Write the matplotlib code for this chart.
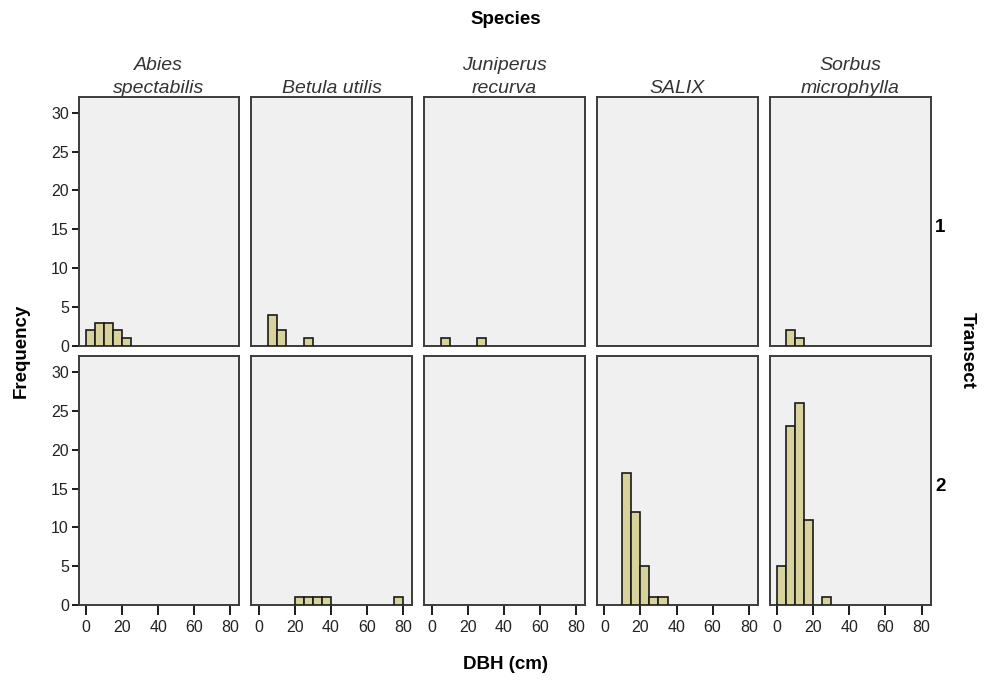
import numpy as np
import matplotlib.pyplot as plt

plt.rcParams["font.family"] = ["Liberation Sans", "DejaVu Sans"]

species = ["Abies\nspectabilis", "Betula utilis", "Juniperus\nrecurva", "SALIX", "Sorbus\nmicrophylla"]
transects = ["1", "2"]

# DBH bins of 5 cm starting at 0; counts per bin (bin start -> frequency)
bin_width = 5
counts = {
    ("1", 0): {0: 2, 5: 3, 10: 3, 15: 2, 20: 1},
    ("1", 1): {5: 4, 10: 2, 25: 1},
    ("1", 2): {5: 1, 25: 1},
    ("1", 3): {},
    ("1", 4): {5: 2, 10: 1},
    ("2", 0): {},
    ("2", 1): {20: 1, 25: 1, 30: 1, 35: 1, 75: 1},
    ("2", 2): {},
    ("2", 3): {10: 17, 15: 12, 20: 5, 25: 1, 30: 1},
    ("2", 4): {0: 5, 5: 23, 10: 26, 15: 11, 25: 1},
}

bar_color = "#d8d39c"
panel_bg = "#f0f0f0"
spine_color = "#3c3c3c"

fig, axes = plt.subplots(2, 5, figsize=(9.85, 6.88), dpi=100, sharex=True, sharey=True)
fig.subplots_adjust(left=0.0797, right=0.9447, top=0.8586, bottom=0.1206,
                    wspace=0.075, hspace=0.043)

for r, t in enumerate(transects):
    for c, sp in enumerate(species):
        ax = axes[r, c]
        ax.set_facecolor(panel_bg)
        data = counts[(t, c)]
        if data:
            starts = list(data.keys())
            vals = list(data.values())
            ax.bar(starts, vals, width=bin_width, align="edge",
                   color=bar_color, edgecolor="#1a1a1a", linewidth=1.2, zorder=3)
        ax.set_xlim(-4.1, 85)
        ax.set_ylim(0, 32)
        for s in ax.spines.values():
            s.set_color(spine_color)
            s.set_linewidth(1.4)
        ax.set_yticks([0, 5, 10, 15, 20, 25, 30])
        ax.set_xticks([0, 20, 40, 60, 80])
        ax.tick_params(axis="both", colors="#1a1a1a", labelcolor="#222222",
                       labelsize=11.5, width=1.4)
        ax.tick_params(axis="x", length=7, pad=4)
        ax.tick_params(axis="y", length=5, pad=2)
        if c != 0:
            ax.tick_params(axis="y", left=False, labelleft=False)
        if r == 0:
            ax.tick_params(axis="x", bottom=False, labelbottom=False)
            ax.set_title(sp, fontsize=14, style="italic", color="#333333",
                         pad=3, linespacing=1.45)

# row labels
for r, t in enumerate(transects):
    ax = axes[r, -1]
    ax.text(1.03, 0.475, t, transform=ax.transAxes, fontsize=13.5,
            fontweight="bold", va="center", ha="left")

fig.text(0.513, 0.972, "Species", ha="center", va="center", fontsize=13.5, fontweight="bold")
fig.text(0.513, 0.034, "DBH (cm)", ha="center", va="center", fontsize=13.5, fontweight="bold")
fig.text(0.022, 0.49, "Frequency", ha="center", va="center", rotation=90,
         fontsize=13.5, fontweight="bold")
fig.text(0.982, 0.49, "Transect", ha="center", va="center", rotation=-90,
         fontsize=13.5, fontweight="bold")

fig.savefig("out.png", dpi=100, facecolor="white")
